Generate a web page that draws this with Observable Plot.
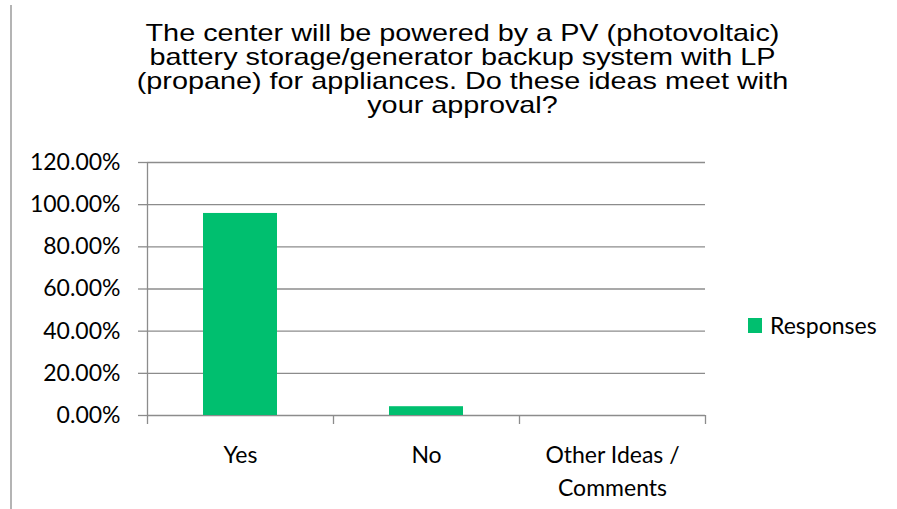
<!DOCTYPE html>
<html>
<head>
<meta charset="utf-8">
<script src="https://cdn.jsdelivr.net/npm/d3@7"></script>
<script src="https://cdn.jsdelivr.net/npm/@observablehq/plot@0.6"></script>
<style>
  html, body { margin: 0; padding: 0; background: #fff; }
  #wrap { position: relative; width: 897px; height: 509px; overflow: hidden; }
  #border { position: absolute; left: 10px; top: 5px; width: 2px; height: 504px; background: #b4b4b4; }
  #title { box-sizing: border-box; width: 897px; height: 135px; padding-top: 21px; padding-left: 28px; text-align: center; }
  #title span { display: inline-block; font-family: "Liberation Sans", Arial, sans-serif; font-size: 24px; line-height: 24px; color: #000; transform: scaleX(1.2); transform-origin: center top; white-space: nowrap; }
  #legend { position: absolute; left: 748px; top: 311px; display: flex; align-items: center; font-family: Lato, sans-serif; font-size: 23px; color: #000; }
  #legend .sw { width: 14px; height: 15px; margin-right: 8px; }
  svg { display: block; }
</style>
</head>
<body>
<div id="wrap">
  <div id="border"></div>
  <div id="title"><span id="titleText"></span></div>
  <div id="chart"></div>
  <div id="legend"></div>
</div>
<script>
const titleLines = [
  "The center will be powered by a PV (photovoltaic)",
  "battery storage/generator backup system with LP",
  "(propane) for appliances. Do these ideas meet with",
  "your approval?"
];
const categories = ["Yes", "No", "Other Ideas / Comments"];
const categoryLabels = ["Yes", "No", "Other Ideas /\nComments"];
const responses = [0.9583, 0.0417, 0];
const yTicks = [0, 0.2, 0.4, 0.6, 0.8, 1.0, 1.2];
const seriesName = "Responses";
const barColor = "#00bf6f";
const gridColor = "#8c8c8c";

document.getElementById("titleText").innerHTML = titleLines.join("<br>");

const data = categories.map((c, i) => ({category: c, value: responses[i]}));
const labelOf = new Map(categories.map((c, i) => [c, categoryLabels[i]]));

const width = 897, height = 374;
const marginLeft = 147, marginRight = 192, marginTop = 27, marginBottom = 94;
const step = (width - marginLeft - marginRight) / categories.length;

const chart = Plot.plot({
  width, height, marginLeft, marginRight, marginTop, marginBottom,
  style: {background: "transparent", overflow: "visible"},
  x: {domain: categories, paddingInner: 0.6, paddingOuter: 0.3, axis: null},
  y: {domain: [0, 1.2], axis: null},
  marks: [
    Plot.gridY(yTicks, {stroke: gridColor, strokeOpacity: 1, strokeWidth: 1.3}),
    Plot.axisY(yTicks, {
      label: null,
      tickSize: 9, tickPadding: 18, tickFormat: d3.format(".2%"),
      stroke: gridColor, strokeWidth: 1.3, strokeOpacity: 1,
      fontFamily: "Lato, sans-serif", fontSize: 23, fill: "#000"
    }),
    Plot.barY(data, {x: "category", y: "value", fill: barColor}),
    Plot.ruleX([categories[0]], {x: d => d, dx: -step / 2, insetBottom: -9, stroke: gridColor, strokeWidth: 1.3}),
    Plot.ruleX(categories, {x: d => d, dx: step / 2, y1: 0, y2: 0, insetBottom: -9, stroke: gridColor, strokeWidth: 1.3}),
    Plot.axisX(categories, {
      label: null,
      tickSize: 0, tickPadding: 24, tickFormat: d => labelOf.get(d),
      fontFamily: "Lato, sans-serif", fontSize: 23, fill: "#000", lineHeight: 1.43
    })
  ]
});
document.getElementById("chart").appendChild(chart);

const legend = document.getElementById("legend");
legend.innerHTML = `<div class="sw" style="background:${barColor}"></div><span>${seriesName}</span>`;
</script>
</body>
</html>
